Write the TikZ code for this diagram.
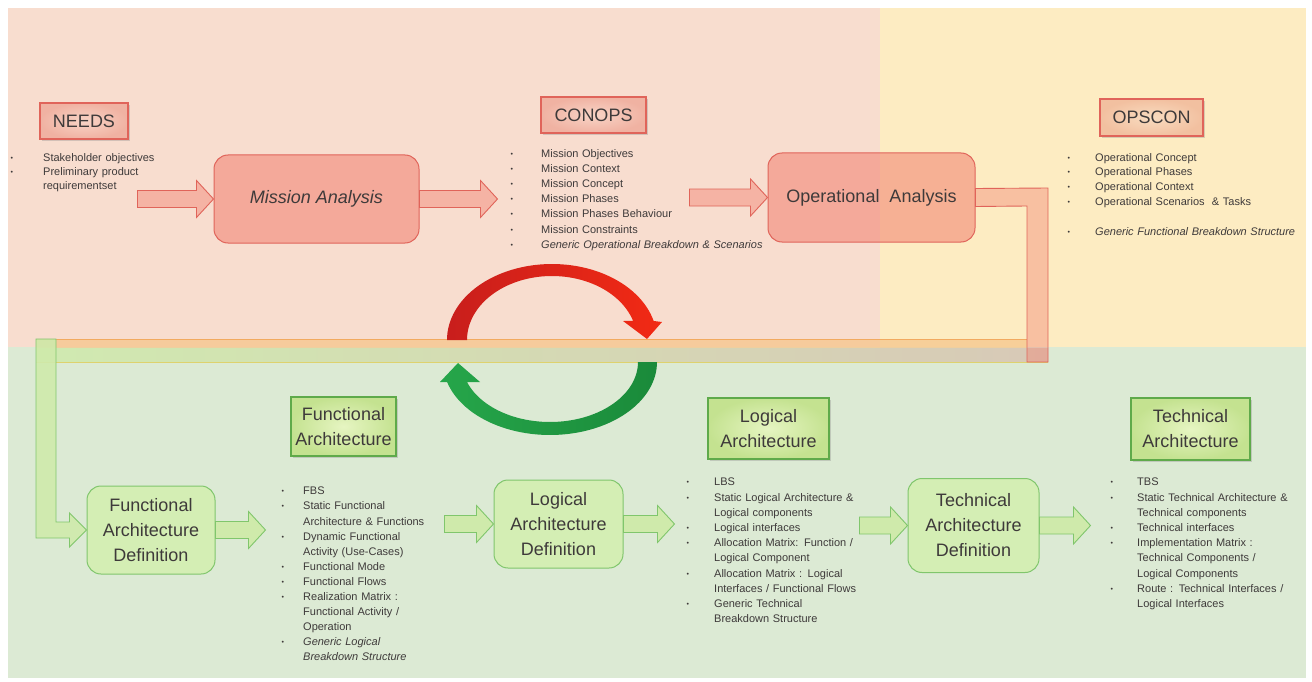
\documentclass[tikz,border=0pt]{standalone}
\usepackage{fontspec}
\setmainfont{Liberation Sans}
\usetikzlibrary{calc,shadows}

\definecolor{bgpink}{HTML}{F8DDCF}
\definecolor{bgyellow}{HTML}{FDECC2}
\definecolor{bggreen}{HTML}{DCEAD4}
\definecolor{salmon}{HTML}{F28070}
\definecolor{salmonline}{HTML}{E0645A}
\definecolor{lblpinkin}{HTML}{F8D4C6}
\definecolor{lblpinkout}{HTML}{F0B2A2}
\definecolor{lblpeachin}{HTML}{F9DCC0}
\definecolor{lblpeachout}{HTML}{F2C0A0}
\definecolor{lblgreenin}{HTML}{E6F5C2}
\definecolor{lblgreenout}{HTML}{C4E290}
\definecolor{lblgreenline}{HTML}{5FAA4A}
\definecolor{procgreen}{HTML}{D4EEB4}
\definecolor{procgreenline}{HTML}{80C66C}
\definecolor{arrgreen}{HTML}{CFEAAB}
\definecolor{txt}{HTML}{3E3A3A}
\definecolor{cycred1}{HTML}{C81E1C}
\definecolor{cycred2}{HTML}{F22A14}
\definecolor{cycgreen1}{HTML}{26A64A}
\definecolor{cycgreen2}{HTML}{1A8A3A}
\definecolor{bandtan}{RGB}{216,196,178}
\definecolor{bandorange}{RGB}{246,198,140}
\definecolor{bandtop}{RGB}{242,170,96}
\definecolor{bandbottom}{RGB}{222,210,110}

\newlength\blgap
\newcommand\bl{\makebox[\blgap][l]{\raisebox{1pt}{\fontsize{7}{7}\selectfont\textbullet}}}
\newcommand\cont{\hspace*{\blgap}}

% horizontal block arrow: style, tail point, tip point (level taken from the tail)
\newcommand\blockarrow[3]{%
  \filldraw[#1] let \p1=#2, \p2=#3 in
    (\x1,\y1+8.5pt) -- (\x2-17pt,\y1+8.5pt) -- (\x2-17pt,\y1+18.5pt) -- (\x2,\y1)
    -- (\x2-17pt,\y1-18.5pt) -- (\x2-17pt,\y1-8.5pt) -- (\x1,\y1-8.5pt) -- cycle;}

\tikzset{
  lbl/.style={draw, line width=1.3pt, inner sep=0pt, align=center, text=txt,
    font=\fontsize{18}{25}\selectfont,
    drop shadow={shadow xshift=2pt, shadow yshift=-2pt, opacity=0.3}},
  lblpink/.style={lbl, draw=salmonline, inner color=lblpinkin, outer color=lblpinkout},
  lblpeach/.style={lbl, draw=salmonline, inner color=lblpeachin, outer color=lblpeachout},
  lblgreen/.style={lbl, draw=lblgreenline, inner color=lblgreenin, outer color=lblgreenout},
  proc/.style={draw, rounded corners=14pt, line width=1pt, align=center, text=txt,
    inner sep=0pt, font=\fontsize{18}{25}\selectfont},
  procred/.style={proc, draw=salmonline, fill=salmon, fill opacity=0.55, text opacity=1},
  procgreen/.style={proc, draw=procgreenline, fill=procgreen},
  sarrow/.style={draw=salmonline, line width=0.9pt, fill=salmon, fill opacity=0.45},
  garrow/.style={draw=procgreenline, line width=0.9pt, fill=arrgreen},
  bullets/.style={anchor=north west, inner sep=0pt, text width=280pt, text=txt,
    execute at begin node={\setlength\parindent{0pt}\setlength\blgap{#1}\raggedright}},
  lh/.style={font=\fontsize{11}{#1}\selectfont}
}

\begin{document}
\begin{tikzpicture}[x=1pt, y=-1pt]
\useasboundingbox (0,0) rectangle (1312,682);
\fill[white] (0,0) rectangle (1312,682);

% background areas
\fill[bgpink]   (8,8)   rectangle (880,347);
\fill[bgyellow] (880,8) rectangle (1306,347);
\fill[bggreen]  (8,347) rectangle (1306,678);

% ---- top row ----
\node[lblpink, minimum width=88pt, minimum height=36pt] (needs) at (84,121) {NEEDS};
\node[lblpink, minimum width=105pt, minimum height=36pt] (conops) at (593.5,115) {CONOPS};
\node[lblpeach, minimum width=103pt, minimum height=37pt] (opscon) at (1151.5,117.5) {OPSCON};

\node[procred, minimum width=205pt, minimum height=88pt] (ma) at (316.5,199) {\itshape Mission Analysis};
\node[procred, minimum width=207pt, minimum height=89pt] (oa) at (871.5,197.5) {Operational\ \ Analysis};

\node[bullets=32.5pt, lh=14] (needslist) at (10.5,153) {%
  \bl Stakeholder objectives\\
  \bl Preliminary product\\
  \cont requirementset};

\node[bullets=30.5pt, lh=15.2] (conopslist) at (510.5,149) {%
  \bl Mission Objectives\\
  \bl Mission Context\\
  \bl Mission Concept\\
  \bl Mission Phases\\
  \bl Mission Phases Behaviour\\
  \bl Mission Constraints\\
  \bl \textit{Generic Operational Breakdown \& Scenarios}};

\node[bullets=27.5pt, lh=14.7] (opsconlist) at (1067.5,153) {%
  \bl Operational Concept\\
  \bl Operational Phases\\
  \bl Operational Context\\
  \bl Operational Scenarios\ \ \& Tasks\\[16pt]
  \bl \textit{Generic Functional Breakdown Structure}};

\coordinate (a1s) at ([xshift=-76pt]ma.west);
\coordinate (a2e) at ([xshift=78pt]ma.east);
\coordinate (a3s) at ([xshift=-78pt]oa.west);
\blockarrow{sarrow}{(a1s)}{(ma.west)}
\blockarrow{sarrow}{(ma.east)}{(a2e)}
\blockarrow{sarrow}{(a3s)}{(oa.west)}

% ---- bottom row ----
\node[lblgreen, minimum width=105pt, minimum height=59pt] (fa) at (343.5,426.5) {Functional\\Architecture};
\node[lblgreen, minimum width=121pt, minimum height=61pt] (la) at (768.5,428.5) {Logical\\Architecture};
\node[lblgreen, minimum width=119pt, minimum height=62pt] (ta) at (1190.5,429) {Technical\\Architecture};

\node[procgreen, minimum width=128pt, minimum height=88pt] (fad) at (151,530) {Functional\\Architecture\\Definition};
\node[procgreen, minimum width=129pt, minimum height=88pt] (lad) at (558.5,524) {Logical\\Architecture\\Definition};
\node[procgreen, minimum width=131pt, minimum height=94pt] (tad) at (973.5,525.5) {Technical\\Architecture\\Definition};

\node[bullets=21.5pt, lh=15.1] (falist) at (281.5,487) {%
  \bl FBS\\
  \bl Static Functional\\
  \cont Architecture \& Functions\\
  \bl Dynamic Functional\\
  \cont Activity (Use-Cases)\\
  \bl Functional Mode\\
  \bl Functional Flows\\
  \bl Realization Matrix :\\
  \cont Functional Activity /\\
  \cont Operation\\
  \bl \textit{Generic Logical}\\
  \cont \textit{Breakdown Structure}};

\node[bullets=27.5pt, lh=15.2] (lalist) at (686.5,478) {%
  \bl LBS\\
  \bl Static Logical Architecture \&\\
  \cont Logical components\\
  \bl Logical interfaces\\
  \bl Allocation Matrix: Function /\\
  \cont Logical Component\\
  \bl Allocation Matrix : Logical\\
  \cont Interfaces / Functional Flows\\
  \bl Generic Technical\\
  \cont Breakdown Structure};

\node[bullets=26.5pt, lh=15.2] (talist) at (1110.5,478) {%
  \bl TBS\\
  \bl Static Technical Architecture \&\\
  \cont Technical components\\
  \bl Technical interfaces\\
  \bl Implementation Matrix :\\
  \cont Technical Components /\\
  \cont Logical Components\\
  \bl Route : Technical Interfaces /\\
  \cont Logical Interfaces};

\coordinate (b1e) at ([xshift=50pt]fad.east);
\coordinate (b2s) at ([xshift=-49pt]lad.west);
\coordinate (b3e) at ([xshift=51pt]lad.east);
\coordinate (b4s) at ([xshift=-48pt]tad.west);
\coordinate (b5e) at ([xshift=51pt]tad.east);
\blockarrow{garrow}{(fad.east)}{(b1e)}
\blockarrow{garrow}{(b2s)}{(lad.west)}
\blockarrow{garrow}{(lad.east)}{(b3e)}
\blockarrow{garrow}{(b4s)}{(tad.west)}
\blockarrow{garrow}{(tad.east)}{(b5e)}

% ---- feedback band between the two halves ----
\path[left color=arrgreen, right color=bandtan, fill opacity=0.85]
  (36,348) rectangle (1048,362);
\fill[bandorange, fill opacity=0.75] (36,339) rectangle (1027,348);
\draw[bandtop, line width=1pt] (36,339) -- (1027,339);
\draw[bandbottom, line width=1pt] (36,362) -- (1048,362);

% connector leaving Operational Analysis and turning down
\filldraw[draw=salmonline, line width=0.9pt, fill=salmon, fill opacity=0.4]
  ([yshift=9pt]oa.east) -- (1048,188) -- (1048,362) -- (1027,362) -- (1027,206)
  -- ([yshift=-9pt]oa.east) -- cycle;

% connector coming down on the left into Functional Architecture Definition
\filldraw[draw=procgreenline, line width=0.9pt, fill=arrgreen, fill opacity=0.9]
  (36,339) -- (56,339) -- (56,522) -- ($(fad.west)+(-17,-8)$) -- ($(fad.west)+(-17,-17)$)
  -- (fad.west) -- ($(fad.west)+(-17,17)$) -- ($(fad.west)+(-17,8)$) -- (36,538) -- cycle;

% ---- iteration cycle ----
\shade[left color=cycred1, right color=cycred2]
  plot[domain=180:345.5, samples=60] ({552+105*cos(\x)},{340+76*sin(\x)})
  -- (662,322) -- (647,339) -- (623,321)
  -- plot[domain=342.7:180, samples=60] ({552+85*cos(\x)},{340+64*sin(\x)}) -- cycle;
\shade[left color=cycgreen1, right color=cycgreen2]
  plot[domain=0:164.1, samples=60] ({550+107*cos(\x)},{362+73*sin(\x)})
  -- (440,382) -- (458,363) -- (480,382)
  -- plot[domain=160.5:0, samples=60] ({550+88*cos(\x)},{362+60*sin(\x)}) -- cycle;
\end{tikzpicture}
\end{document}
